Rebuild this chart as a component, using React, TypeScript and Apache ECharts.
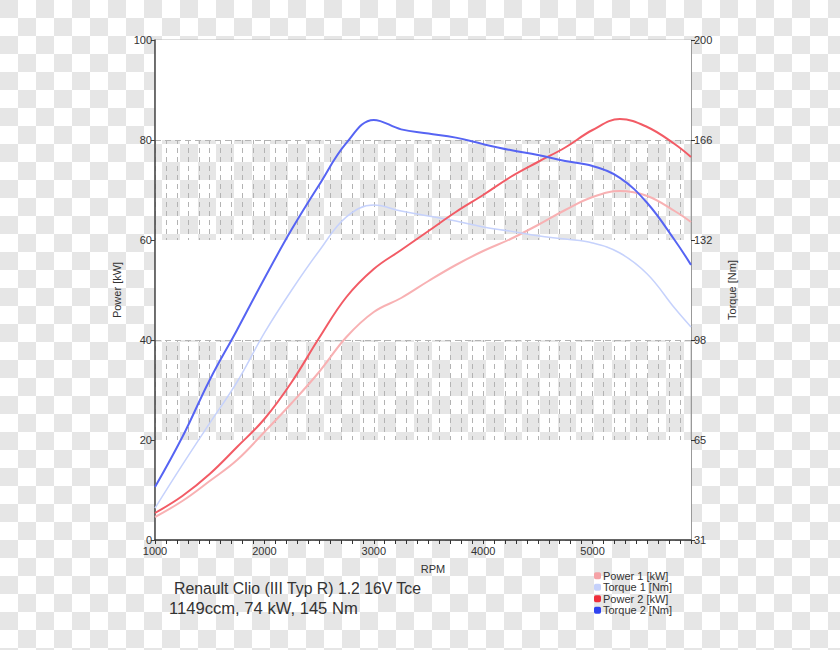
import React, { useEffect, useRef } from 'react';
import * as echarts from 'echarts';

const RPM = [1000, 1250, 1500, 1750, 2000, 2250, 2500, 2750, 3000, 3250, 3500, 3750, 4000, 4250, 4500, 4750, 5000, 5250, 5500, 5750, 5900];
const POWER_1 = [4.6, 7.8, 11.8, 16.0, 21.6, 27.4, 33.6, 40.6, 45.6, 48.4, 51.8, 55.0, 57.8, 60.2, 63.0, 66.0, 68.6, 69.8, 68.8, 65.8, 63.6];
const TORQUE_1 = [41.8, 56.4, 70.5, 84.4, 101.0, 115.5, 128.7, 140.2, 144.2, 142.2, 140.5, 138.8, 136.8, 135.4, 133.8, 132.7, 131.4, 128.0, 120.9, 109.4, 103.0];
const POWER_2 = [5.4, 8.8, 13.2, 18.6, 24.2, 31.6, 40.4, 48.6, 54.2, 58.0, 61.8, 65.6, 69.0, 72.6, 75.6, 78.5, 82.0, 84.2, 82.6, 79.2, 76.6];
const TORQUE_2 = [48.9, 65.8, 85.1, 102.0, 119.4, 136.0, 151.0, 165.2, 173.0, 169.8, 168.4, 167.0, 164.8, 162.8, 161.1, 159.1, 157.4, 153.4, 144.9, 132.4, 124.0];

const TORQUE_TICKS = [31, 64.8, 98.6, 132.4, 166.2, 200];
const TORQUE_TICK_LABELS = ['31', '65', '98', '132', '166', '200'];
const WHITE_BANDS = [[100, 80], [60, 40], [20, 0]];

const FONT = 'Liberation Sans, Arial, Helvetica, sans-serif';

const pair = (ys: number[]) => RPM.map((x, i) => [x, ys[i]]);

function checkerImage(): string {
  const c = document.createElement('canvas');
  c.width = 36;
  c.height = 36;
  const ctx = c.getContext('2d')!;
  ctx.fillStyle = '#ffffff';
  ctx.fillRect(0, 0, 36, 36);
  ctx.fillStyle = '#e6e6e6';
  ctx.fillRect(0, 0, 18, 18);
  ctx.fillRect(18, 18, 18, 18);
  return c.toDataURL('image/png');
}

export default function App() {
  const ref = useRef<HTMLDivElement>(null);
  useEffect(() => {
    document.body.style.margin = '0';
    const chart = echarts.init(ref.current!, null, { renderer: 'svg' });
    const lineSeries = (name: string, data: number[], yAxisIndex: number, lineColor: string, markerColor: string, width: number) => ({
      name,
      type: 'line',
      yAxisIndex,
      data: pair(data),
      smooth: 0.4,
      showSymbol: false,
      symbol: 'none',
      z: 3,
      itemStyle: { color: markerColor },
      lineStyle: { color: lineColor, width },
    });
    chart.setOption({
      animation: false,
      backgroundColor: { image: checkerImage(), repeat: 'repeat' },
      textStyle: { fontFamily: FONT, color: '#333' },
      grid: {
        left: 155, right: 149, top: 40, bottom: 110,
        show: true, borderColor: '#bdbdbd', borderWidth: 1, backgroundColor: 'transparent',
      },
      title: [
        { text: 'Renault Clio (III Typ R) 1.2 16V Tce', left: 174, top: 580, padding: 0, textStyle: { fontFamily: FONT, fontSize: 15.8, fontWeight: 'normal', color: '#333' } },
        { text: '1149ccm, 74 kW, 145 Nm', left: 169, top: 600, padding: 0, textStyle: { fontFamily: FONT, fontSize: 16.6, fontWeight: 'normal', color: '#333' } },
      ],
      legend: {
        data: ['Power 1 [kW]', 'Torque 1 [Nm]', 'Power 2 [kW]', 'Torque 2 [Nm]'],
        orient: 'vertical',
        left: 594,
        top: 570,
        icon: 'roundRect',
        itemWidth: 7,
        itemHeight: 7,
        itemGap: 0,
        padding: 0,
        textStyle: { fontFamily: FONT, fontSize: 11, color: '#333', padding: [0, 0, 0, -3], lineHeight: 11.5 },
      },
      xAxis: {
        type: 'value',
        min: 1000,
        max: 5900,
        interval: 100,
        z: 1,
        name: 'RPM',
        nameLocation: 'middle',
        nameGap: 23,
        nameTextStyle: { fontFamily: FONT, fontSize: 11, color: '#333', padding: [0, 0, 0, 20] },
        axisLine: { lineStyle: { color: '#333', width: 1.5 } },
        axisTick: { length: 4, lineStyle: { color: '#333' } },
        axisLabel: {
          fontFamily: FONT, fontSize: 11, color: '#333', margin: 5,
          formatter: (v: number) => (v % 1000 === 0 ? String(v) : ''),
        },
        splitLine: { show: true, lineStyle: { color: '#b3b3b3', type: [5, 4], width: 1 } },
      },
      yAxis: [
        {
          type: 'value',
          min: 0,
          max: 100,
          interval: 20,
          z: 1,
          name: 'Power [kW]',
          nameLocation: 'middle',
          nameGap: 33,
          nameTextStyle: { fontFamily: FONT, fontSize: 11, color: '#333' },
          axisLine: { show: true, lineStyle: { color: '#444', width: 1.5 } },
          axisTick: { show: true, length: 4, lineStyle: { color: '#444' } },
          axisLabel: { fontFamily: FONT, fontSize: 11, color: '#333', margin: 3 },
          splitLine: { show: true, lineStyle: { color: '#b3b3b3', type: [6, 4], width: 1 } },
        },
        {
          type: 'value',
          min: 31,
          max: 200,
          position: 'right',
          z: 1,
          name: 'Torque [Nm]',
          nameLocation: 'middle',
          nameGap: 35,
          nameRotate: 90,
          nameTextStyle: { fontFamily: FONT, fontSize: 11, color: '#333' },
          axisLine: { show: true, lineStyle: { color: '#999', width: 1 } },
          axisTick: { show: true, length: 4, lineStyle: { color: '#333' }, customValues: TORQUE_TICKS },
          axisLabel: {
            fontFamily: FONT, fontSize: 11, color: '#333', margin: 3,
            customValues: TORQUE_TICKS,
            formatter: (v: number) => {
              let best = 0;
              TORQUE_TICKS.forEach((t, i) => { if (Math.abs(t - v) < Math.abs(TORQUE_TICKS[best] - v)) best = i; });
              return TORQUE_TICK_LABELS[best];
            },
          },
          splitLine: { show: false },
        },
      ],
      series: [
        {
          name: 'bands',
          type: 'line',
          data: [[1000, 0]],
          symbol: 'none',
          silent: true,
          z: 0,
          lineStyle: { opacity: 0 },
          markArea: {
            silent: true,
            itemStyle: { color: '#ffffff' },
            data: WHITE_BANDS.map(([a, b]) => [{ yAxis: a }, { yAxis: b }]),
          },
        },
        lineSeries('Power 1 [kW]', POWER_1, 0, '#f8b1b3', '#f5a2a6', 2),
        lineSeries('Torque 1 [Nm]', TORQUE_1, 1, '#c6d2fc', '#c5d1fb', 1.5),
        lineSeries('Power 2 [kW]', POWER_2, 0, '#f25b65', '#ef2f3c', 2),
        lineSeries('Torque 2 [Nm]', TORQUE_2, 1, '#5664f3', '#2f43ef', 2),
      ],
    });
    return () => chart.dispose();
  }, []);
  return <div ref={ref} style={{ width: 840, height: 650 }} />;
}
